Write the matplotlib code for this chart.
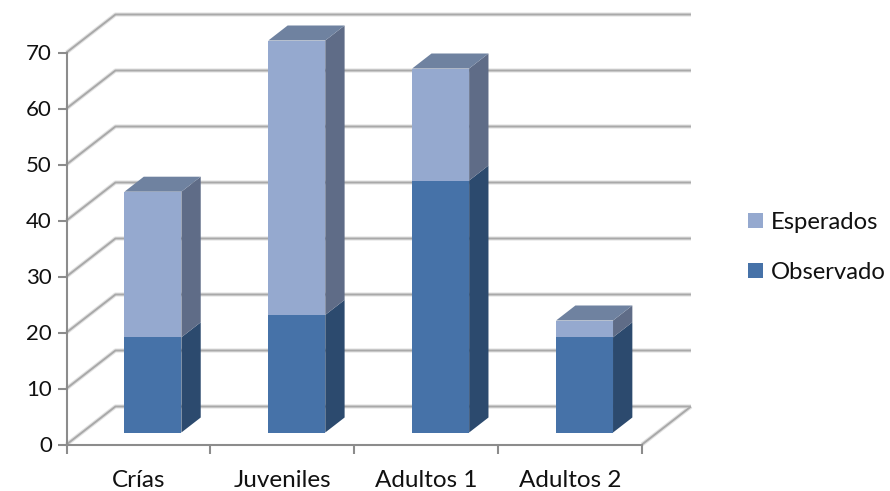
import matplotlib
matplotlib.use('Agg')
import matplotlib.pyplot as plt
from matplotlib.patches import Polygon
from matplotlib.ticker import FixedLocator, NullFormatter, FixedFormatter
import numpy as np

plt.rcParams['font.family'] = ['Lato', 'DejaVu Sans']

categories = ['Crías', 'Juveniles', 'Adultos 1', 'Adultos 2']
observado = [17, 21, 45, 17]
esperados = [26, 49, 20, 3]
yticks = [0, 10, 20, 30, 40, 50, 60, 70]

W, H = 890, 491
# depth of the fake 3d box, in data units
DX, DY = 49 / 144.0, 38 / 5.6
# bar sits between these fractions of the depth
D0, D1 = 12 / 38.0, 27 / 38.0
BAR_W = 57 / 144.0
GRID = '#a9a9a9'
AXIS = '#8c8c8c'

fig = plt.figure(figsize=(W / 100, H / 100), dpi=100)
ax = fig.add_axes([66.5 / W, 1 - 444.5 / H, 575.5 / W, 392 / H])
ax.set_xlim(0, 4)
ax.set_ylim(0, 70)
ax.patch.set_visible(False)


def wall_line(xs, ys):
    # soft shadow under the line, like the office chart
    ax.plot(xs, ys, color='#e2e2e2', lw=3.0, clip_on=False, zorder=1, solid_capstyle='butt')
    ax.plot(xs, ys, color=GRID, lw=1.4, clip_on=False, zorder=1.1, solid_capstyle='butt')


for v in yticks:
    wall_line([0, DX, 4 + DX], [v, v + DY, v + DY])
wall_line([4, 4 + DX], [0, DY])

x = np.arange(len(categories)) + 0.5
obs = np.array(observado)
esp = np.array(esperados)
off_x, off_y = 14.5 / 144.0, D0 * DY
dep_x, dep_y = (D1 - D0) * DX, (D1 - D0) * DY
# the bars stand on the floor, shifted into the box
bars_o = ax.bar(x + off_x, obs, BAR_W, bottom=off_y, color='#4672a8', zorder=3,
                clip_on=False, label='Observado')
bars_e = ax.bar(x + off_x, esp, BAR_W, bottom=obs + off_y, color='#95a9cf', zorder=3,
                clip_on=False, label='Esperados')


def box_faces(xc, low, high, side, top=None):
    xl = xc + off_x - BAR_W / 2
    xr = xc + off_x + BAR_W / 2
    ax.add_patch(Polygon([(xr, low), (xr + dep_x, low + dep_y), (xr + dep_x, high + dep_y), (xr, high)],
                         closed=True, fc=side, ec='none', zorder=3, clip_on=False))
    if top:
        ax.add_patch(Polygon([(xl, high), (xl + dep_x, high + dep_y), (xr + dep_x, high + dep_y), (xr, high)],
                             closed=True, fc=top, ec='none', zorder=3, clip_on=False))


for i in range(len(categories)):
    box_faces(x[i], off_y, off_y + obs[i], '#2c4a6e')
    box_faces(x[i], off_y + obs[i], off_y + obs[i] + esp[i], '#5f6c87', '#6f82a0')

for s in ['top', 'right']:
    ax.spines[s].set_visible(False)
for s in ['left', 'bottom']:
    ax.spines[s].set_color(AXIS)
    ax.spines[s].set_linewidth(1.5)
    ax.spines[s].set_zorder(2)

ax.set_yticks(yticks)
ax.xaxis.set_major_locator(FixedLocator([0, 1, 2, 3, 4]))
ax.xaxis.set_major_formatter(NullFormatter())
ax.xaxis.set_minor_locator(FixedLocator(list(x)))
ax.xaxis.set_minor_formatter(FixedFormatter(categories))
ax.tick_params(axis='x', which='major', length=6.5, width=1.5, color=AXIS)
ax.tick_params(axis='x', which='minor', length=0, pad=18.5, labelsize=17.5, labelcolor='#111111')
ax.tick_params(axis='y', length=6.5, width=1.5, color=AXIS, pad=4, labelsize=16, labelcolor='#111111')

h, l = ax.get_legend_handles_labels()
fig.legend(h[::-1], l[::-1], loc='center left', bbox_to_anchor=(743.5 / W, 1 - 247.5 / H), frameon=False,
           fontsize=17.2, handlelength=0.62, handleheight=0.62, handletextpad=0.33, labelspacing=1.22,
           labelcolor='#111111', borderpad=0.2, borderaxespad=0)

fig.savefig('out.png', dpi=100)
